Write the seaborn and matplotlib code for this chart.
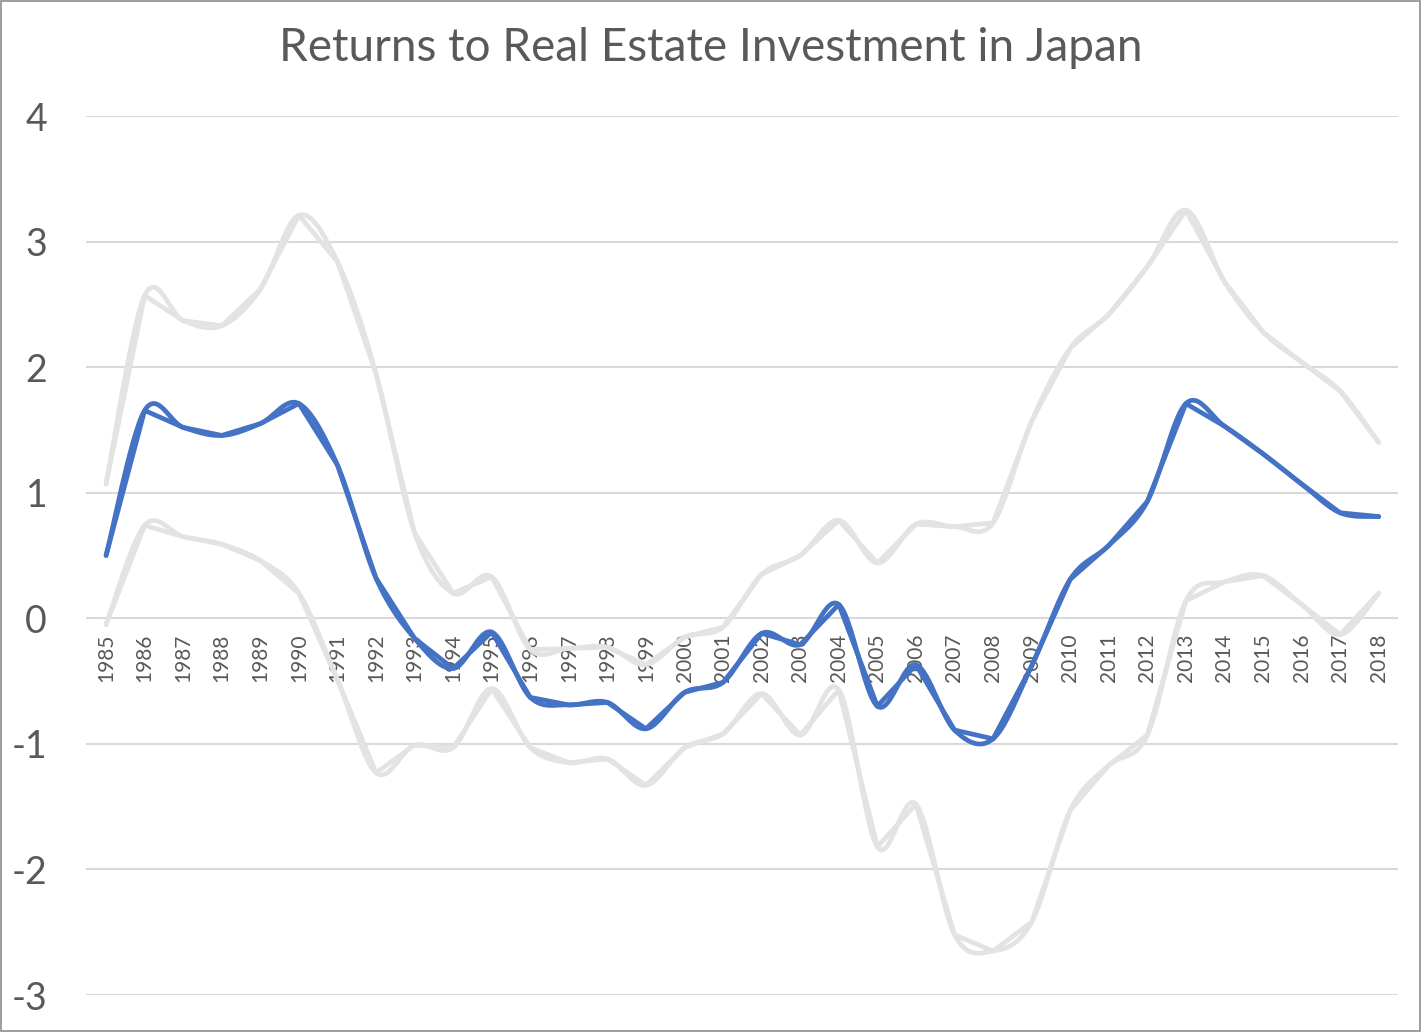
import numpy as np
import pandas as pd
import seaborn as sns
import matplotlib
matplotlib.use("Agg")
import matplotlib.pyplot as plt

# values
years = list(range(1985, 2019))

mid = [0.50, 1.655, 1.52, 1.456, 1.55, 1.71, 1.22, 0.32, -0.16, -0.40,
       -0.11, -0.63, -0.69, -0.67, -0.88, -0.59, -0.51, -0.12, -0.21, 0.11,
       -0.70, -0.37, -0.89, -0.96, -0.38, 0.31, 0.58, 0.93, 1.71, 1.53,
       1.31, 1.07, 0.84, 0.81]

upper = [1.07, 2.57, 2.37, 2.33, 2.62, 3.21, 2.84, 1.95, 0.68, 0.20,
         0.33, -0.25, -0.24, -0.23, -0.37, -0.15, -0.07, 0.35, 0.50, 0.78,
         0.44, 0.75, 0.73, 0.76, 1.57, 2.15, 2.42, 2.80, 3.25, 2.68,
         2.28, 2.04, 1.81, 1.40]

lower = [-0.05, 0.74, 0.65, 0.59, 0.46, 0.20, -0.49, -1.23, -1.01, -1.03,
         -0.56, -1.03, -1.15, -1.12, -1.33, -1.03, -0.92, -0.60, -0.93, -0.57,
         -1.82, -1.48, -2.52, -2.65, -2.42, -1.53, -1.17, -0.93, 0.14, 0.29,
         0.34, 0.11, -0.13, 0.20]

y_ticks = [-3, -2, -1, 0, 1, 2, 3, 4]

BLUE = "#4472C4"
GREY = "#E3E3E3"
TEXT = "#595959"


def smooth(xs, ys, n=30):
    # Catmull-Rom style bezier through the points, like Excel's smoothed line
    xs = np.asarray(xs, float)
    ys = np.asarray(ys, float)
    px, py = [], []
    m = len(xs)
    t = np.linspace(0, 1, n)
    for i in range(m - 1):
        i0 = max(i - 1, 0)
        i3 = min(i + 2, m - 1)
        p1 = np.array([xs[i], ys[i]])
        p2 = np.array([xs[i + 1], ys[i + 1]])
        p0 = np.array([xs[i0], ys[i0]])
        p3 = np.array([xs[i3], ys[i3]])
        c1 = p1 + (p2 - p0) / 6.0
        c2 = p2 - (p3 - p1) / 6.0
        b = ((1 - t) ** 3)[:, None] * p1 + (3 * (1 - t) ** 2 * t)[:, None] * c1 \
            + (3 * (1 - t) * t ** 2)[:, None] * c2 + (t ** 3)[:, None] * p2
        px.extend(b[:, 0])
        py.extend(b[:, 1])
    return np.array(px), np.array(py)


sns.set_theme(style="white")
plt.rcParams['font.family'] = ['Lato', 'DejaVu Sans']

fig = plt.figure(figsize=(14.21, 10.32), dpi=100)
ax = fig.add_axes([86 / 1421, 37 / 1032, 1312 / 1421, 879 / 1032])

df = pd.DataFrame({"year": years, "mid": mid, "upper": upper, "lower": lower})

for col, colour in [("upper", GREY), ("lower", GREY), ("mid", BLUE)]:
    sx, sy = smooth(df["year"], df[col])
    sns.lineplot(x=sx, y=sy, ax=ax, color=colour, lw=3.4, sort=False,
                 solid_capstyle="round", solid_joinstyle="round")
    sns.lineplot(data=df, x="year", y=col, ax=ax, color=colour, lw=3.4,
                 solid_capstyle="round", solid_joinstyle="round")

ax.set_xlim(1984.48, 2018.5)
ax.set_ylim(-3, 4)
ax.set_yticks(y_ticks)
ax.set_yticklabels([str(v) for v in y_ticks])
ax.set_xticks(years)
ax.set_xticklabels([str(y) for y in years])
ax.set_xlabel("")
ax.set_ylabel("")

ax.yaxis.grid(True, color="#D9D9D9", lw=1.5)
ax.set_axisbelow(True)
for s in ["top", "right", "left"]:
    ax.spines[s].set_visible(False)
ax.spines["bottom"].set_position(("data", 0))
ax.spines["bottom"].set_visible(False)

ax.tick_params(axis="y", length=0, pad=28, labelsize=27, labelcolor=TEXT)
ax.tick_params(axis="x", length=0, pad=11, labelsize=15, labelcolor=TEXT,
               labelrotation=90)

fig.text(0.5, 1 - 48 / 1032, "Returns to Real Estate Investment in Japan",
         ha="center", va="center", fontsize=33, color=TEXT)

# thin frame round the whole picture
fig.patches.append(plt.Rectangle((0.0005, 0.0005), 0.999, 0.999,
                                 transform=fig.transFigure, fill=False,
                                 ec="#8C8C8C", lw=1.2))

fig.savefig("out.png", dpi=100)
